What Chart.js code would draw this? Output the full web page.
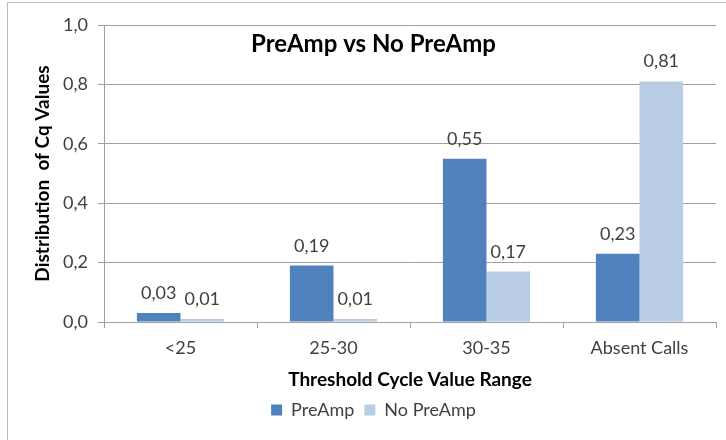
<!DOCTYPE html>
<html>
<head>
<meta charset="utf-8">
<script src="https://cdn.jsdelivr.net/npm/chart.js@4/dist/chart.umd.min.js"></script>
<style>
  html, body { margin: 0; padding: 0; background: #fff; overflow: hidden; }
  #wrap { position: relative; width: 726px; height: 440px; }
  #frame { position: absolute; left: 7px; top: 2px; width: 800px; height: 500px;
           border-left: 1px solid #bdbdbd; border-top: 1px solid #bdbdbd; }
  canvas { position: absolute; left: 0; top: 0; }
</style>
</head>
<body>
<div id="wrap">
  <div id="frame"></div>
  <canvas id="chart"></canvas>
</div>
<script>
const categories = ["<25", "25-30", "30-35", "Absent Calls"];
const preAmp = [0.03, 0.19, 0.55, 0.23];
const noPreAmp = [0.01, 0.01, 0.17, 0.81];
const yTicks = [0, 0.2, 0.4, 0.6, 0.8, 1.0];

const FONT = "Lato, 'Open Sans', sans-serif";
const comma = (v, d) => v.toFixed(d).replace(".", ",");

// values written over each bar
const barLabels = {
  id: "barLabels",
  afterDatasetsDraw(chart) {
    const ctx = chart.ctx;
    ctx.save();
    ctx.font = "18px " + FONT;
    ctx.fillStyle = "#404040";
    ctx.textAlign = "center";
    ctx.textBaseline = "alphabetic";
    chart.data.datasets.forEach((ds, i) => {
      chart.getDatasetMeta(i).data.forEach((bar, j) => {
        ctx.fillText(comma(ds.data[j], 2), bar.x, bar.y - 14);
      });
    });
    ctx.restore();
  }
};

// title sits inside the plot, like the original
const innerTitle = {
  id: "innerTitle",
  afterDraw(chart) {
    const ctx = chart.ctx;
    const pad = chart.options.layout.padding;
    ctx.save();
    ctx.font = "bold 24px " + FONT;
    ctx.fillStyle = "#000";
    ctx.textAlign = "center";
    ctx.textBaseline = "middle";
    ctx.fillText("PreAmp vs No PreAmp", (pad.left + chart.width - pad.right) / 2, 44);
    ctx.restore();
  }
};

new Chart(document.getElementById("chart"), {
  type: "bar",
  data: {
    labels: categories,
    datasets: [
      { label: "PreAmp", data: preAmp, backgroundColor: "#4F81BD" },
      { label: "No PreAmp", data: noPreAmp, backgroundColor: "#B9CDE5" }
    ]
  },
  options: {
    responsive: true,
    maintainAspectRatio: false,
    animation: false,
    categoryPercentage: 0.57,
    barPercentage: 1.0,
    layout: { padding: { left: 31, right: 10, top: 25, bottom: 11 } },
    plugins: {
      tooltip: { enabled: false },
      legend: {
        position: "bottom",
        labels: {
          font: { family: FONT, size: 18 },
          color: "#404040",
          boxWidth: 11,
          boxHeight: 11,
          padding: 10
        }
      }
    },
    scales: {
      x: {
        grid: { offset: true, drawOnChartArea: false, drawTicks: true, tickLength: 6, color: "#a0a0a0" },
        border: { color: "#a0a0a0" },
        ticks: { font: { family: FONT, size: 18 }, color: "#404040", padding: 9 },
        title: {
          display: true,
          text: "Threshold Cycle Value Range",
          font: { family: FONT, size: 19, weight: "bold" },
          color: "#000",
          padding: { top: 4, bottom: 0 }
        },
        afterFit(scale) { scale.height = 69; }
      },
      y: {
        min: 0,
        max: 1,
        afterBuildTicks(scale) { scale.ticks = yTicks.map(v => ({ value: v })); },
        grid: { color: "#a0a0a0", tickLength: 6 },
        border: { color: "#a0a0a0" },
        ticks: {
          font: { family: FONT, size: 18 },
          color: "#404040",
          padding: 10,
          callback: v => comma(v, 1)
        },
        title: {
          display: true,
          text: "Distribution  of Cq Values",
          font: { family: FONT, size: 19, weight: "bold" },
          color: "#000",
          padding: 0
        },
        afterFit(scale) { scale.width = 73; }
      }
    }
  },
  plugins: [barLabels, innerTitle]
});
</script>
</body>
</html>
